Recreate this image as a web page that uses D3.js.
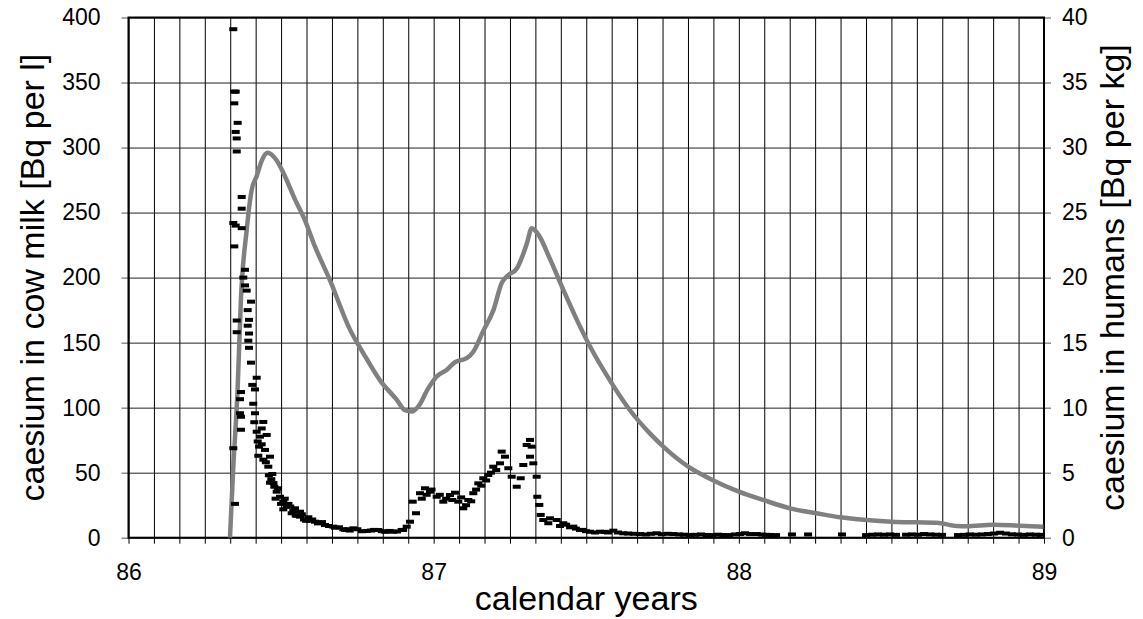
<!DOCTYPE html>
<html>
<head>
<meta charset="utf-8">
<script src="https://cdn.jsdelivr.net/npm/d3@7"></script>
<style>
  html, body { margin: 0; padding: 0; background: #fff; }
  svg { display: block; }
  text { font-family: "Liberation Sans", Arial, sans-serif; fill: #000; }
</style>
</head>
<body>
<svg id="chart" width="1143" height="619"></svg>
<script>
// ---------- data ----------
const yearTicks = [86, 87, 88, 89];
const milkTicks = [0, 50, 100, 150, 200, 250, 300, 350, 400];
const humanTicks = [0, 5, 10, 15, 20, 25, 30, 35, 40];
const xLabel = "calendar years";
const yLeftLabel = "caesium in cow milk [Bq per l]";
const yRightLabel = "caesium in humans [Bq per kg]";

// caesium in cow milk [Bq per l] : [year, value]
const milkYears = [
  86.3434, 86.3467, 86.3513, 86.3467, 86.3578, 86.3513, 86.3546, 86.3546, 86.3709, 86.3709,
  86.3434, 86.3513, 86.3709, 86.3467, 86.3818, 86.3762, 86.3818, 86.3873, 86.4014, 86.3906,
  86.3546, 86.3949, 86.3906, 86.3546, 86.3949, 86.3926, 86.3949, 86.4014, 86.4201, 86.4057,
  86.4145, 86.3686, 86.3654, 86.4089, 86.3654, 86.4145, 86.3686, 86.4417, 86.4122, 86.4365,
  86.3686, 86.4201, 86.4529, 86.4309, 86.4234, 86.4365, 86.3434, 86.4473, 86.4253, 86.4637,
  86.4581, 86.4712, 86.4637, 86.4778, 86.4856, 86.4964, 86.5073, 86.3490, 86.5184, 86.5073,
  86.5456, 86.5348, 86.5620, 86.5620, 86.5892, 86.6111, 86.6439, 86.6767, 86.7203,
  86.5240, 86.5400, 86.5530, 86.5750, 86.5950, 86.6210, 86.6340, 86.6570, 86.6900,
  86.4280, 86.4420, 86.4500, 86.4600, 86.4680, 86.4750, 86.4820, 86.4900, 86.5000, 86.5120,
  86.5300, 86.5480, 86.5680, 86.5820, 86.6020,
  86.6711, 86.7039, 86.7367, 86.7806, 86.8186, 86.8677, 86.8952, 86.9116, 86.9224, 86.9421,
  86.9313, 86.9552, 86.9716, 86.9880, 87.0099, 87.0316, 87.0535, 87.0699, 87.0807, 87.0971,
  87.1135, 87.1299, 87.1463, 87.1626, 87.1790, 87.1954, 87.2174, 87.2229, 87.2337, 87.2446,
  87.2557, 87.2721, 87.2852, 87.2937, 87.3048, 87.3157, 87.3212, 87.3157, 87.3265, 87.3376,
  87.3396, 87.3462, 87.3507, 87.3592, 87.3812, 87.3756, 87.4032, 87.4248, 87.4576, 87.4795,
  86.7100, 86.7250, 86.7500, 86.7650, 86.7950, 86.8050, 86.8300, 86.8420, 86.8550, 86.8800,
  86.9000,
  86.9610, 86.9770, 86.9930, 87.0200, 87.0410, 87.0610, 87.0900, 87.1060, 87.1230, 87.1390,
  87.1560, 87.1720, 87.1880, 87.2050,
  87.5123, 87.5450, 87.5886, 87.6214, 87.6761, 87.7308, 87.7852, 87.8400, 87.8947, 87.9491,
  88.0038, 88.0585, 88.1021,
  87.4140, 87.4340, 87.4470, 87.4660, 87.4890, 87.4990, 87.5290, 87.5610, 87.5710, 87.6040,
  87.6370, 87.6560, 87.6960, 87.7120, 87.7480, 87.7680, 87.8040, 87.8200, 87.8560, 87.8760,
  87.9120, 87.9320, 87.9680, 87.9870, 88.0200, 88.0370, 88.0760, 88.0890,
  88.1220, 88.1740, 88.2270, 88.3380,
  88.4170, 88.4370, 88.4560, 88.4760, 88.4960, 88.5150,
  88.5480, 88.5670, 88.5870, 88.6070, 88.6270, 88.6460, 88.6660,
  88.7180, 88.7380, 88.7570, 88.7770, 88.7970, 88.8160, 88.8360, 88.8560, 88.8750, 88.8950,
  88.9150, 88.9340, 88.9540, 88.9740, 88.9900
];
const milkValues = [
  391, 343, 343, 334, 319, 312, 307, 297, 262, 253,
  242, 240, 238, 224, 206, 200, 194, 190, 181.5, 175,
  167, 167.5, 163, 158, 157, 151.5, 146, 134.6, 123, 117.5,
  114, 112, 106.5, 103, 95.7, 95.7, 93, 89, 88.8, 84,
  83, 81.5, 79, 77.7, 74, 71.8, 68.8, 67.5, 63, 62.3,
  54.6, 49, 42.3, 39.2, 35.4, 31.5, 27.7, 26, 23.8, 21.8,
  22.6, 18.8, 20, 16.2, 15.7, 12.3, 9.8, 7.7, 6.5,
  26, 20.5, 17, 14, 13, 11, 12, 9, 8,
  70, 60, 58, 48, 45, 42, 30, 38, 26, 30,
  24, 17, 18, 13, 14,
  8.5, 6.5, 7.2, 5.2, 5.9, 4.6, 5.9, 8.5, 12.3, 18.8,
  27.7, 34.2, 38, 35.4, 31.5, 27.7, 32.8, 34.6, 27.7, 22.6,
  29, 34.2, 41.8, 45.7, 48.2, 54.6, 57.2, 66.2, 62.3, 53.4,
  46.9, 39.2, 45.7, 55.9, 71.3, 75.2, 70, 62.3, 57.2, 46.9,
  31.5, 25.2, 17.5, 13.6, 14.9, 11.1, 13.6, 11.1, 8.5, 5.9,
  6, 5.5, 6.5, 5, 5.5, 6, 5, 4.5, 5.2, 4.8,
  6,
  30, 33, 37, 33, 30, 29, 31, 25, 28, 37,
  40, 44, 50, 52,
  4.6, 4.6, 5.4, 3.4, 2.8, 3.4, 2.8, 2.1, 2.1, 2.1,
  2.8, 2.8, 2.1,
  9, 10, 8, 7, 6, 5, 4, 4.5, 4, 4,
  3.2, 3, 2.5, 3, 2.7, 3, 2.5, 2.3, 2.2, 2.5,
  2, 2.3, 2, 2.5, 3.4, 2.8, 2.4, 2.2,
  2, 2.5, 2.5, 2.5,
  2, 2.3, 2.5, 2.3, 2.5, 2.2,
  2.3, 2.5, 2.3, 2.8, 2.5, 2.3, 2.2,
  2, 2.2, 2.5, 2.3, 2.5, 2.8, 3.2, 3.8, 3.2, 2.6,
  2.4, 2.2, 2.5, 2.3, 2.2
];

// caesium in humans [Bq per kg]
const humanYears = [
  86.3325, 86.3433, 86.3575, 86.3683, 86.3875, 86.4033, 86.4200, 86.4367, 86.4558, 86.4858,
  86.5125, 86.5458, 86.5783, 86.6108, 86.6583, 86.7258, 86.7692, 86.8242, 86.8792, 86.9058,
  86.9283, 86.9500, 86.9825, 87.0100, 87.0425, 87.0700, 87.1083, 87.1300, 87.1625, 87.1958,
  87.2233, 87.2450, 87.2725, 87.2883, 87.3050, 87.3217, 87.3433, 87.3817, 87.4250, 87.4692,
  87.5125, 87.5775, 87.6433, 87.7092, 87.7525, 87.8342, 87.9167, 88.0000, 88.0800, 88.1675,
  88.2550, 88.3317, 88.4192, 88.5008, 88.5833, 88.6483, 88.7142, 88.7467, 88.8333, 88.9208,
  88.9983
];
const humanValues = [
  0, 5.4, 11.4, 18.3, 23.7, 26.7, 27.8, 29.0, 29.6, 29.0,
  27.8, 26.0, 24.4, 22.4, 19.9, 16.0, 14.2, 12.1, 10.6, 9.8,
  9.7, 10.1, 11.5, 12.4, 12.9, 13.5, 13.8, 14.3, 15.9, 17.5,
  19.6, 20.2, 20.7, 21.5, 22.6, 23.8, 23.3, 21.4, 19.05, 16.75,
  14.7, 12.1, 9.8, 8.0, 7.0, 5.46, 4.4, 3.54, 2.9, 2.26,
  1.88, 1.57, 1.36, 1.23, 1.18, 1.15, 0.9, 0.88, 1.0, 0.92,
  0.85
];

// ---------- layout ----------
const svg = d3.select("#chart");
const L = 128.5, R = 1044, T = 17.5, B = 537.7;
const tickFont = 23, titleFont = 34;

const x = d3.scaleLinear().domain([86, 89]).range([L, R]);
const yL = d3.scaleLinear().domain([0, 400]).range([B, T]);
const yR = d3.scaleLinear().domain([0, 40]).range([B, T]);

const monthTicks = d3.range(0, 37).map(i => 86 + i / 12);

// vertical grid (months)
svg.append("g")
  .attr("transform", `translate(0,${B})`)
  .call(d3.axisBottom(x).tickValues(monthTicks).tickSize(-(B - T)).tickFormat(""))
  .call(g => g.select(".domain").remove())
  .call(g => g.selectAll("line").attr("stroke", "#000").attr("stroke-width", 1));

// horizontal grid
svg.append("g")
  .attr("transform", `translate(${L},0)`)
  .call(d3.axisLeft(yL).tickValues(milkTicks).tickSize(-(R - L)).tickFormat(""))
  .call(g => g.select(".domain").remove())
  .call(g => g.selectAll("line").attr("stroke", "#222").attr("stroke-width", 1));

// x axis: month ticks, labels at years
const yearSet = new Set(yearTicks);
svg.append("g")
  .attr("transform", `translate(0,${B})`)
  .call(d3.axisBottom(x).tickValues(monthTicks).tickSize(6).tickPadding(20)
    .tickFormat(d => {
      const r = Math.round(d);
      return (Math.abs(d - r) < 1e-6 && yearSet.has(r)) ? String(r) : "";
    }))
  .call(g => g.select(".domain").remove())
  .call(g => g.selectAll("line").attr("stroke", "#000"))
  .call(g => g.selectAll("text").attr("font-size", tickFont).attr("font-family", "Liberation Sans, Arial, sans-serif"));

// left y axis
svg.append("g")
  .attr("transform", `translate(${L},0)`)
  .call(d3.axisLeft(yL).tickValues(milkTicks).tickSize(7).tickPadding(21))
  .call(g => g.select(".domain").remove())
  .call(g => g.selectAll("line").attr("stroke", "#555"))
  .call(g => g.selectAll("text").attr("font-size", tickFont).attr("font-family", "Liberation Sans, Arial, sans-serif"));

// right y axis
svg.append("g")
  .attr("transform", `translate(${R},0)`)
  .call(d3.axisRight(yR).tickValues(humanTicks).tickSize(7).tickPadding(11))
  .call(g => g.select(".domain").remove())
  .call(g => g.selectAll("line").attr("stroke", "#555"))
  .call(g => g.selectAll("text").attr("font-size", tickFont).attr("font-family", "Liberation Sans, Arial, sans-serif"));

// frame
svg.append("rect")
  .attr("x", L).attr("y", T).attr("width", R - L).attr("height", B - T)
  .attr("fill", "none").attr("stroke", "#000").attr("stroke-width", 2);

// humans line
const humanData = humanYears.map((d, i) => [d, humanValues[i]]);
svg.append("path")
  .datum(humanData)
  .attr("fill", "none")
  .attr("stroke", "#808080")
  .attr("stroke-width", 4.5)
  .attr("stroke-linejoin", "round")
  .attr("d", d3.line().x(d => x(d[0])).y(d => yR(d[1])).curve(d3.curveMonotoneX));

// milk markers
const milkData = milkYears.map((d, i) => [d, milkValues[i]]);
svg.append("g").selectAll("rect")
  .data(milkData)
  .join("rect")
  .attr("x", d => x(d[0]) - 4)
  .attr("y", d => yL(d[1]) - 2)
  .attr("width", 8)
  .attr("height", 4)
  .attr("fill", "#000");

// axis titles
svg.append("text")
  .attr("x", (L + R) / 2).attr("y", 610)
  .attr("text-anchor", "middle").attr("font-size", titleFont)
  .text(xLabel);

svg.append("text")
  .attr("transform", `translate(44,${(T + B) / 2}) rotate(-90)`)
  .attr("text-anchor", "middle").attr("font-size", titleFont)
  .text(yLeftLabel);

svg.append("text")
  .attr("transform", `translate(1124,${(T + B) / 2}) rotate(-90)`)
  .attr("text-anchor", "middle").attr("font-size", titleFont)
  .text(yRightLabel);
</script>
</body>
</html>
